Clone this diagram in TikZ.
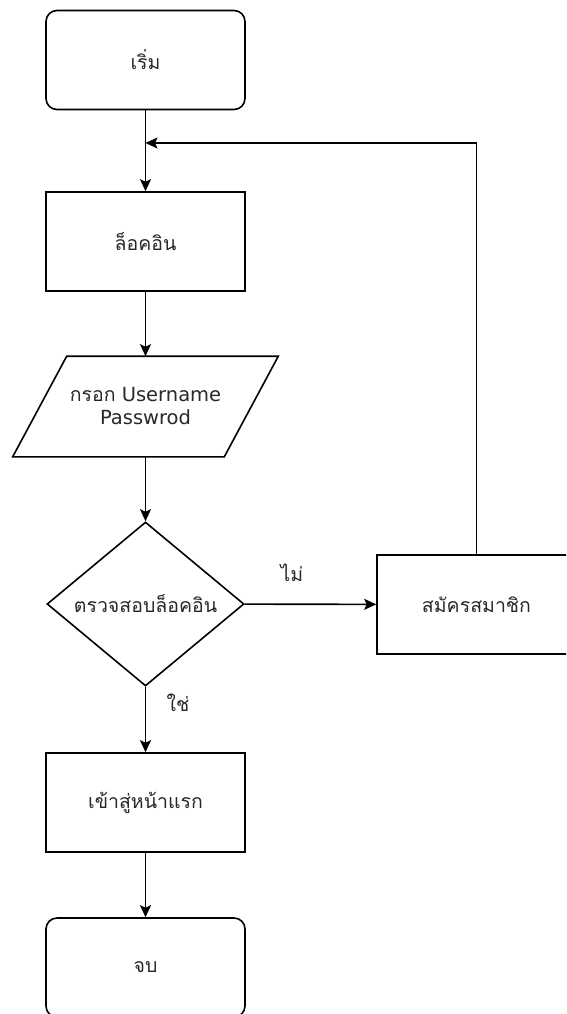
\documentclass[tikz,border=0pt]{standalone}
\usepackage{fontspec}
\setmainfont{DejaVu Sans}
\newfontfamily\thai[Script=Thai]{Loma}
\usetikzlibrary{shapes.geometric,arrows.meta,calc}
\definecolor{textc}{RGB}{40,40,40}
\begin{document}
\begin{tikzpicture}[x=1pt,y=-1pt,line width=1.6pt,
  font=\fontsize{19.5}{23}\selectfont,
  box/.style={draw, minimum width=199pt, minimum height=99pt, inner sep=0pt, align=center, text=textc},
  term/.style={box, rounded corners=11pt},
  arr/.style={-{Stealth[length=12pt,width=11pt,inset=2.5pt]}},
  lbl/.style={text=textc, inner sep=0pt}]
\clip (0,0) rectangle (566,1014);
\node[term] (start) at (145.5,60) {\thai เริ่ม};
\node[box] (login) at (145.5,241.5) {\thai ล็อคอิน};
\node[inner sep=0pt, minimum width=264pt, minimum height=99pt, align=center, text=textc] (input) at (145.5,406.5) {{\thai กรอก} Username\\Passwrod};
\draw ($(input.north west)+(54,0)$) -- (input.north east) -- ($(input.south east)+(-54,0)$) -- (input.south west) -- cycle;
\node[diamond, draw, minimum width=197pt, minimum height=164pt, inner sep=0pt, aspect=1.2, text=textc] (check) at (145.5,604) {\thai ตรวจสอบล็อคอิน};
\node[box] (reg) at (476.5,604.5) {\thai สมัครสมาชิก};
\node[box] (home) at (145.5,802.5) {\thai เข้าสู่หน้าแรก};
\node[term] (end) at (145.5,967.5) {\thai จบ};
\coordinate (join) at (145.5,143);
\coordinate (turn) at (476.5,143);
\node[lbl] (no) at (292,573) {\thai ไม่};
\node[lbl] (yes) at (178,703) {\thai ใช่};
\draw (start) -- (join);
\draw[arr] (join) -- (login);
\draw[arr] (login) -- (input);
\draw[arr] (input) -- (check);
\draw[arr] (check) -- (reg);
\draw[arr] (check) -- (home);
\draw[arr] (home) -- (end);
\draw[arr] (reg.north) -- (turn) -- (join);
\end{tikzpicture}
\end{document}
